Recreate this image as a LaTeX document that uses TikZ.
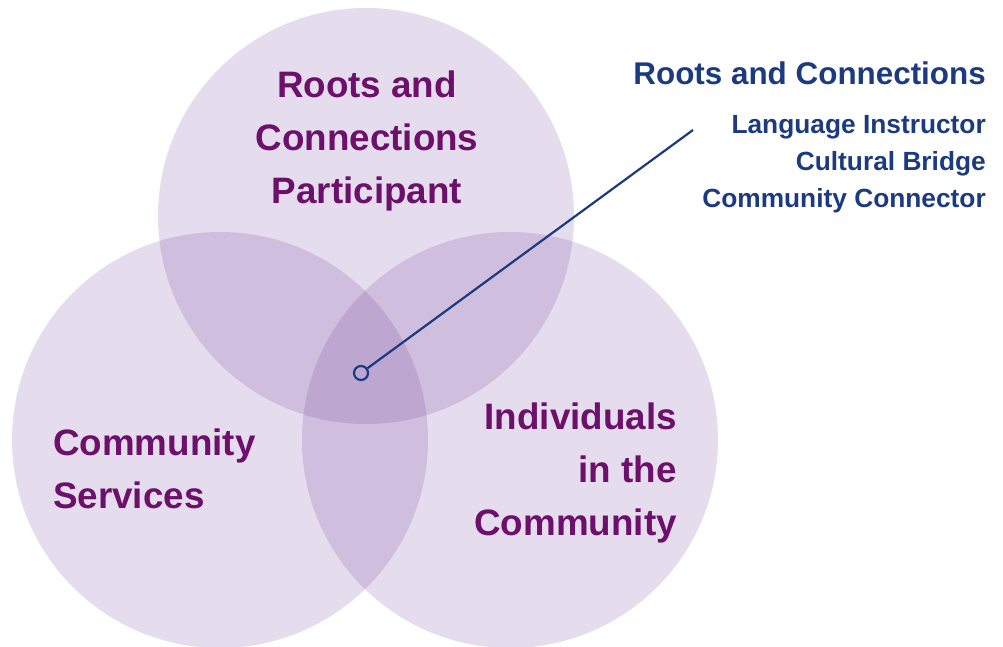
\documentclass[tikz,border=0pt]{standalone}
\usepackage{fontspec}
\setmainfont{Liberation Sans}
\definecolor{venn}{RGB}{96,40,143}
\definecolor{lblpurple}{RGB}{108,16,108}
\definecolor{lblblue}{RGB}{27,58,127}
\begin{document}
\begin{tikzpicture}[x=1pt,y=-1pt,
  set/.style={fill=venn,fill opacity=0.165,draw=none},
  big/.style={font=\fontsize{36.8}{36}\selectfont\bfseries,text=lblpurple,inner sep=0pt},
  ttl/.style={font=\fontsize{31.4}{30}\selectfont\bfseries,text=lblblue,inner sep=0pt,anchor=base east},
  role/.style={font=\fontsize{26.3}{25}\selectfont\bfseries,text=lblblue,inner sep=0pt,anchor=base east}]
\useasboundingbox (0,0) rectangle (1003,646);
\clip (0,0) rectangle (1003,646);
\fill[set] (366,216) circle (208);
\fill[set] (220,440) circle (208);
\fill[set] (510,440) circle (208);
% top set label
\node[big,anchor=base] (r1) at (367,97) {Roots and};
\node[big,anchor=base] (r2) at (367,150) {Connections};
\node[big,anchor=base] (r3) at (367,203) {Participant};
% left set label
\node[big,anchor=base west] (c1) at (53,455) {Community};
\node[big,anchor=base west] (c2) at (53,508) {Services};
% right set label
\node[big,anchor=base east] (i1) at (677,429) {Individuals};
\node[big,anchor=base east] (i2) at (677,482) {in the};
\node[big,anchor=base east] (i3) at (677,535) {Community};
% callout
\node[ttl] (title) at (986,84) {Roots and Connections};
\node[role] (l1) at (986,133) {Language Instructor};
\node[role] (l2) at (986,170) {Cultural Bridge};
\node[role] (l3) at (986,207) {Community Connector};
\node[circle,draw=lblblue,line width=2.2pt,minimum size=14pt,inner sep=0pt] (dot) at (361,373) {};
\coordinate (lend) at (693,130);
\draw[lblblue,line width=2.2pt] (dot) -- (lend);
\end{tikzpicture}
\end{document}
